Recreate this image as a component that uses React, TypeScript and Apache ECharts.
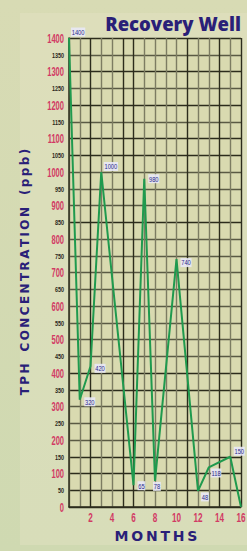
import React, { useEffect, useRef } from "react";
import * as echarts from "echarts";

const months = [0, 1, 2, 3, 6, 7, 8, 10, 12, 13, 15, 16];
const tph = [1400, 320, 420, 1000, 65, 980, 78, 740, 48, 118, 150, 0];
const pointLabels = ["1400", "320", "420", "1000", "65", "980", "78", "740", "48", "118", "150", ""];
const yTicks = [0, 50, 100, 150, 200, 250, 300, 350, 400, 450, 500, 550, 600, 650, 700, 750, 800, 850, 900, 950, 1000, 1050, 1100, 1150, 1200, 1250, 1300, 1350, 1400];
const xTicks = [2, 4, 6, 8, 10, 12, 14, 16];

const title = "Recovery Well";
const yName = "TPH CONCENTRATION (ppb)";
const xName = "MONTHS";

// label placement styling (offset from each point, px)
const labelOffsets: [number, number][] = [
  [2, -6], [4.5, 2], [4, 2], [2.5, -5.5], [4, 0.5], [4, 0], [-2, 5.5], [4, 3.5], [3, 6], [2, 5.5], [3.5, -5.5], [0, 0],
];

const spaceOut = (s: string) =>
  s.split(" ").map((w) => w.split("").join("\u2009")).join("\u2003");

const NARROW = "'Liberation Sans', Arial, sans-serif";

export default function App() {
  const ref = useRef<HTMLDivElement>(null);
  useEffect(() => {
    document.body.style.margin = "0";
    const chart = echarts.init(ref.current!, undefined, { renderer: "svg" });
    const vDark = [2, 5, 6, 11, 14, 16];
    const vColors = Array.from({ length: 17 }, (_, i) => (vDark.includes(i) ? "#2c2c1c" : "#7c7c62"));
    const hDark = [0, 1, 2, 3, 7, 8, 17, 21, 22, 24, 26, 28];
    const hColors = Array.from({ length: 29 }, (_, i) => (hDark.includes(i) ? "#2c2c1c" : "#5a5a44"));
    chart.setOption({
      animation: false,
      backgroundColor: {
        type: "linear", x: 0, y: 0, x2: 0, y2: 1,
        colorStops: [
          { offset: 0, color: "#d8dbb4" },
          { offset: 1, color: "#cfd9b1" },
        ],
      },
      graphic: [
        {
          type: "rect", z: -10, silent: true,
          shape: { x: 20, y: 13, width: 227, height: 532 },
          style: { fill: "rgba(232,230,200,0.35)" },
        },
        {
          type: "text", x: 241, y: 23,
          style: {
            text: title, fill: "#2a1f78",
            font: "800 18.5px 'Open Sans', 'DejaVu Sans', sans-serif",
            align: "right", verticalAlign: "middle",
          },
        },
        {
          type: "text", x: 25, y: 272, rotation: Math.PI / 2,
          style: {
            text: spaceOut(yName), fill: "#2a1f78",
            font: "bold 12px 'DejaVu Sans', sans-serif",
            align: "center", verticalAlign: "middle",
          },
        },
        {
          type: "text", x: 156, y: 536,
          style: {
            text: xName.split("").join("\u2009"), fill: "#2a1f78",
            font: "bold 14px 'DejaVu Sans', sans-serif",
            align: "center", verticalAlign: "middle",
          },
        },
      ],
      grid: { left: 69, top: 38, width: 172, height: 469, backgroundColor: "#d9dab0", show: true, borderWidth: 0 },
      xAxis: {
        type: "value", min: 0, max: 16, interval: 1,
        axisLine: { show: true, lineStyle: { color: "#2c2c1c", width: 1.5 } },
        axisTick: { show: false },
        splitLine: { show: true, lineStyle: { color: vColors, width: 1.4 } },
        axisLabel: { show: false },
      },
      yAxis: {
        type: "value", min: 0, max: 1400, interval: 50,
        axisLine: { show: true, lineStyle: { color: "#2c2c1c", width: 1.5 } },
        axisTick: { show: false },
        splitLine: { show: true, lineStyle: { color: hColors, width: 1.4 } },
        axisLabel: { show: false },
      },
      series: [
        {
          type: "line",
          data: months.map((m, i) => [m, tph[i]]),
          symbol: "none",
          lineStyle: { color: "#1f9a4e", width: 2 },
          z: 5,
        },
        {
          type: "custom",
          data: months.map((m, i) => [m, tph[i], i]),
          clip: false, silent: true, z: 6,
          renderItem: (params: any, api: any) => {
            const i = api.value(2);
            const txt = pointLabels[i];
            if (!txt) return null;
            const p = api.coord([api.value(0), api.value(1)]);
            const [dx, dy] = labelOffsets[i];
            return {
              type: "text", x: p[0] + dx, y: p[1] + dy, scaleX: 0.72,
              style: {
                text: txt, fill: "#2a2a8a",
                font: `8px ${NARROW}`,
                align: "left", verticalAlign: "middle",
                backgroundColor: "rgba(232,232,246,0.9)",
                padding: [1, 1, 0, 1],
              },
            };
          },
        },
        {
          type: "custom",
          data: yTicks.map((v) => [0, v]),
          clip: false, silent: true, z: 6,
          renderItem: (params: any, api: any) => {
            const v = api.value(1);
            const p = api.coord([0, v]);
            const major = v % 100 === 0;
            return {
              type: "text", x: p[0] - 5, y: p[1], scaleX: major ? 0.58 : 0.68,
              style: {
                text: String(v),
                fill: major ? "#d23a64" : "#2a2a1c",
                font: major ? `bold 13px ${NARROW}` : `bold 8px ${NARROW}`,
                align: "right", verticalAlign: "middle",
              },
            };
          },
        },
        {
          type: "custom",
          data: xTicks.map((v) => [v, 0]),
          clip: false, silent: true, z: 6,
          renderItem: (params: any, api: any) => {
            const v = api.value(0);
            const p = api.coord([v, 0]);
            return {
              type: "text", x: p[0], y: p[1] + 11, scaleX: 0.68,
              style: {
                text: String(v), fill: "#d23a64",
                font: `bold 12px ${NARROW}`,
                align: "center", verticalAlign: "middle",
              },
            };
          },
        },
      ],
    });
    return () => chart.dispose();
  }, []);
  return <div ref={ref} style={{ position: "fixed", left: 0, top: 0, width: 247, height: 551 }} />;
}
